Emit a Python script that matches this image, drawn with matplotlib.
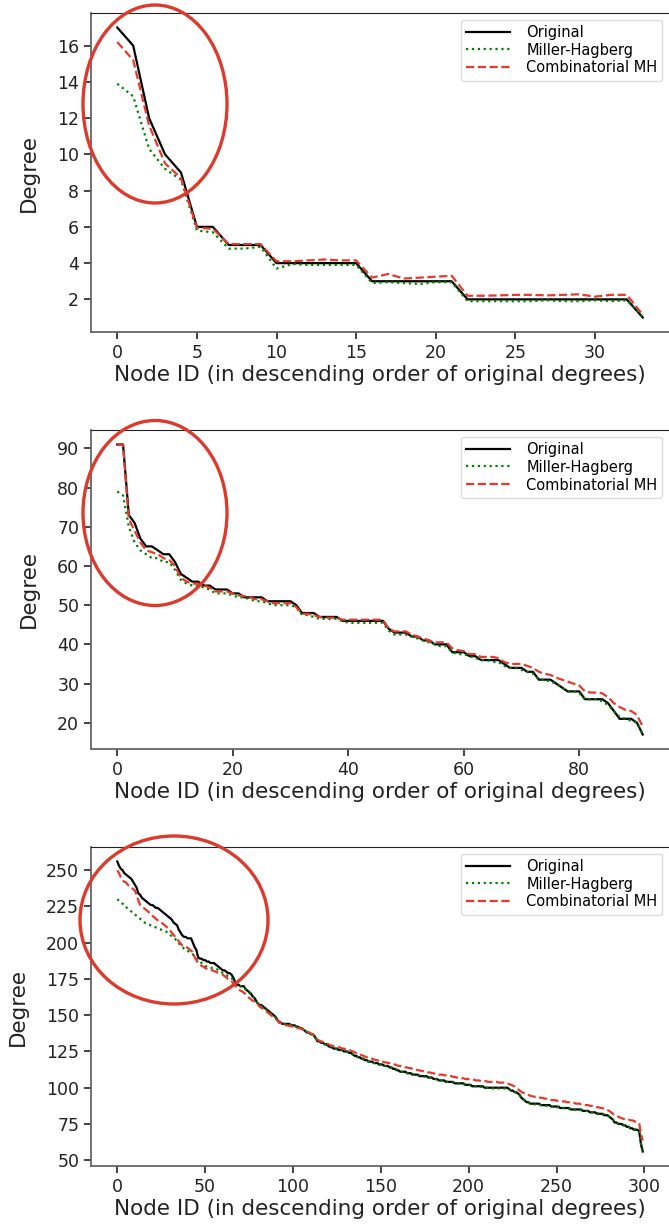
import matplotlib
matplotlib.use("Agg")
import matplotlib.pyplot as plt
from matplotlib.patches import Ellipse

# Panel 1 (34 nodes)
orig1 = [17, 16, 12, 10, 9, 6, 6, 5, 5, 5, 4, 4, 4, 4, 4, 4, 3, 3, 3, 3, 3, 3,
         2, 2, 2, 2, 2, 2, 2, 2, 2, 2, 2, 1]
mh1 = [13.9, 13.2, 10.3, 9.2, 8.6, 5.8, 5.7, 4.8, 4.8, 4.9, 3.7, 3.95, 3.9, 3.9,
       3.9, 3.9, 2.9, 2.95, 2.9, 2.85, 2.95, 2.95, 1.9, 1.9, 1.9, 1.9, 1.9, 1.95,
       1.9, 1.9, 1.95, 1.9, 1.95, 1.05]
cmh1 = [16.2, 15.2, 11.6, 9.5, 8.7, 5.95, 5.9, 5.05, 5.05, 5.05, 4.1, 4.1, 4.15,
        4.2, 4.15, 4.15, 3.2, 3.4, 3.15, 3.2, 3.25, 3.3, 2.2, 2.2, 2.22, 2.25,
        2.25, 2.22, 2.25, 2.28, 2.15, 2.25, 2.25, 1.15]

# Panel 2 (92 nodes)
orig2 = [91, 91, 73, 71, 67, 65, 65, 64, 63, 63,
         61, 58, 57, 56, 56, 55, 55, 54, 54, 54,
         53, 53, 52, 52, 52, 52, 51, 51, 51, 51,
         51, 50, 48, 48, 48, 47, 47, 47, 47, 46,
         46, 46, 46, 46, 46, 46, 46, 44, 43, 43,
         43, 42, 42, 41, 41, 40, 40, 40, 38, 38,
         38, 37, 37, 36, 36, 36, 36, 35, 34, 34,
         34, 33, 33, 31, 31, 31, 30, 29, 28, 28,
         28, 26, 26, 26, 26, 25, 23, 21, 21, 21,
         20, 17]
mh2 = [79, 78, 70, 66, 64, 63, 62, 62, 61, 61,
       59, 56.5, 55.5, 55, 55, 54.5, 54, 53, 53, 53,
       52.5, 52, 52, 51.5, 51, 51, 50.5, 50, 50, 50,
       50, 49.5, 47.5, 47.5, 47, 46.5, 46.5, 46.5, 46.5, 46,
       45.5, 45.5, 45.5, 45.5, 45.5, 45.5, 45.5, 43.5, 42.5, 42.5,
       42.5, 42, 41.5, 41, 40.5, 40, 39.5, 39.5, 38, 37.5,
       37.5, 37, 36.5, 36, 36, 35.5, 35.5, 34.5, 34, 34,
       33.5, 33, 32.5, 31, 31, 30.5, 30, 29, 28, 28,
       27.5, 26, 26, 26, 25.5, 24.5, 23, 21.5, 21, 20.5,
       20, 17]
cmh2 = [91, 91, 72, 69, 66, 64, 63.5, 63, 62, 61.5,
        60, 57, 56, 55.5, 55.5, 55, 54.5, 53.5, 53.5, 53.5,
        53, 52.5, 52.3, 52, 51.5, 51.5, 51, 50.5, 50.5, 50.5,
        50.5, 49.5, 47.8, 47.8, 47.5, 47, 46.8, 46.8, 46.8, 46.3,
        46.3, 46.3, 46.3, 46.3, 46.3, 46.3, 46.3, 44, 43.3, 43.3,
        43.3, 42.5, 42, 41.5, 41, 40.5, 40.5, 40.5, 39, 38.5,
        38.3, 37.5, 37.5, 36.8, 36.8, 36.8, 36.5, 35.5, 35, 35,
        35, 34.5, 34, 33, 32.5, 32.2, 31.5, 31, 30.5, 30,
        29.5, 28, 27.7, 27.7, 27.5, 26.5, 25, 24, 23.3, 23,
        22, 19]

# Panel 3 (300 nodes)
orig3 = [256, 253, 251, 250, 248, 247, 246, 245, 244, 242,
         240, 238, 234, 233, 231, 230, 229, 228, 227, 226,
         226, 225, 224, 224, 223, 222, 221, 220, 219, 218,
         217, 216, 214, 213, 212, 209, 207, 205, 204, 204,
         203, 203, 203, 200, 197, 195, 190, 189, 189, 188,
         188, 187, 187, 186, 186, 186, 185, 184, 183, 182,
         181, 181, 180, 179, 179, 178, 176, 173, 171, 171,
         170, 170, 170, 168, 167, 166, 165, 163, 162, 160,
         158, 157, 157, 156, 155, 154, 153, 152, 151, 150,
         149, 147, 145, 145, 144, 144, 144, 144, 144, 143,
         143, 143, 142, 142, 141, 141, 140, 139, 138, 138,
         137, 137, 136, 134, 132, 132, 131, 131, 130, 130,
         129, 128, 128, 127, 127, 127, 126, 126, 126, 125,
         125, 125, 124, 124, 123, 122, 122, 121, 121, 120,
         120, 119, 119, 118, 118, 118, 117, 117, 117, 116,
         116, 116, 115, 115, 115, 114, 114, 113, 113, 112,
         112, 111, 111, 111, 111, 110, 110, 110, 109, 109,
         109, 109, 108, 108, 108, 108, 108, 107, 107, 107,
         106, 106, 106, 105, 105, 105, 105, 104, 104, 104,
         104, 104, 103, 103, 103, 103, 103, 103, 102, 102,
         102, 102, 101, 101, 101, 101, 101, 101, 101, 100,
         100, 100, 100, 100, 100, 100, 100, 100, 100, 100,
         100, 100, 100, 99, 98, 98, 97, 97, 96, 95,
         93, 92, 91, 90, 90, 89, 89, 89, 89, 89,
         89, 88, 88, 88, 88, 88, 88, 87, 87, 87,
         87, 87, 86, 86, 86, 86, 86, 86, 85, 85,
         85, 85, 85, 85, 85, 84, 84, 84, 84, 83,
         83, 83, 83, 82, 82, 82, 82, 81, 81, 81,
         80, 79, 78, 76, 76, 75, 75, 75, 74, 74,
         73, 73, 72, 72, 71, 71, 71, 70, 61, 56]
mh3 = [230, 229, 228, 227, 225, 224.5, 223.5, 222.5, 221.5, 220.5,
       219.5, 218.5, 217.5, 216.5, 215.5, 214.5, 213.5, 213, 212.5, 212,
       211.5, 211, 210.5, 210, 209.5, 209, 208.5, 208, 207.5, 206.5,
       205.5, 204.5, 203.5, 202.5, 201, 199.5, 198.5, 197, 196, 195.5,
       194.5, 193.5, 193, 192, 190.5, 189, 188, 187, 186, 185,
       184, 183.5, 183, 183, 182.5, 182.5, 182, 181.5, 181, 180,
       179, 178, 177.5, 177, 176.5, 175.5, 174.5, 172.5, 171, 170.5,
       170, 169.5, 169, 168, 166.5, 165.5, 164.5, 163, 161.5, 160,
       158, 157, 156.5, 155.5, 154.5, 153.5, 152.5, 151.5, 150.5, 149.5,
       148.5, 147, 145.5, 145, 144.5, 144, 143.5, 143.5, 143.5, 143,
       143, 142.5, 142, 142, 141.5, 141, 140, 139, 138.5, 138,
       137, 136.5, 135.5, 134, 132.5, 132, 131, 130.5, 130, 129.5,
       129, 128.5, 128, 127.5, 127, 126.5, 126.5, 126, 126, 125.5,
       125, 124.5, 124, 123.5, 123, 122, 121.5, 121, 120.5, 120,
       119.5, 119, 118.5, 118, 118, 117.5, 117, 117, 116.5, 116,
       116, 115.5, 115, 115, 114.5, 114, 113.5, 113, 113, 112.5,
       112, 111.5, 111, 111, 110.5, 110, 110, 109.5, 109.5, 109,
       109, 108.5, 108.5, 108, 108, 107.5, 107.5, 107, 107, 106.5,
       106, 106, 105.5, 105.5, 105, 105, 104.5, 104.5, 104, 104,
       104, 103.5, 103.5, 103, 103, 103, 102.5, 102.5, 102, 102,
       102, 101.5, 101.5, 101, 101, 101, 100.5, 100.5, 100.5, 100,
       100, 100, 99.5, 99.5, 99.5, 99.5, 99.5, 99.5, 99.5, 99.5,
       99.5, 99.5, 99.5, 99, 98, 97.5, 97, 96.5, 95.5, 94.5,
       93, 92, 91, 90, 89.5, 89, 89, 88.5, 88.5, 88.5,
       88.5, 88, 88, 88, 87.5, 87.5, 87.5, 87, 87, 87,
       86.5, 86.5, 86, 86, 86, 85.5, 85.5, 85.5, 85, 85,
       85, 84.5, 84.5, 84.5, 84.5, 84, 84, 84, 83.5, 83.5,
       83, 83, 82.5, 82.5, 82, 82, 81.5, 81.5, 81, 80.5,
       80, 79, 78, 76.5, 76, 75.5, 75, 74.5, 74.5, 74,
       73.5, 73, 72.5, 72, 71.5, 71, 70.5, 70, 62, 56.5]
cmh3 = [250, 248, 245, 243, 242, 241.5, 240, 239, 238, 237,
        236, 233, 229, 226, 225, 224, 223, 222, 221, 219.5,
        218.5, 217.5, 216.5, 215.5, 214.5, 214, 213, 212, 211, 210,
        208.5, 207, 205.5, 204, 202.5, 201, 199.5, 198, 197.5, 197,
        196.5, 195.5, 194.5, 193.5, 190, 188, 186, 185, 184, 183.5,
        182.5, 182, 181.5, 181, 181, 180.5, 180, 179.5, 179, 178.5,
        178, 177, 176, 175, 174.5, 173.5, 172, 170.5, 169, 168,
        167, 166.5, 165.5, 164.5, 163, 162, 161, 160, 159.5, 159,
        157.5, 156, 155, 154.5, 153.5, 152.5, 151.5, 150.5, 149.5, 148.5,
        147.5, 146.5, 145.5, 144.5, 144, 143.5, 143, 143, 142.5, 142.5,
        142, 142, 141.5, 141, 141, 140.5, 140, 139, 138.5, 138,
        137.5, 137, 136, 134.5, 133, 132.5, 132, 131.5, 131, 130.5,
        130, 129.5, 129, 128.5, 128.5, 128, 128, 127.5, 127, 127,
        126.5, 126.5, 126, 125.5, 125, 124.5, 124, 123.5, 123, 122.5,
        122, 121.5, 121, 120.5, 120.5, 120, 119.5, 119, 119, 118.5,
        118, 118, 117.5, 117.5, 117, 117, 116.5, 116, 116, 115.5,
        115, 115, 114.5, 114.5, 114, 114, 113.5, 113.5, 113, 113,
        112.5, 112, 112, 111.5, 111.5, 111, 111, 110.5, 110.5, 110,
        110, 109.5, 109.5, 109, 109, 109, 108.5, 108.5, 108, 108,
        108, 107.5, 107.5, 107, 107, 107, 106.5, 106.5, 106, 106,
        106, 105.5, 105.5, 105.5, 105, 105, 105, 104.5, 104.5, 104.5,
        104.5, 104, 104, 104, 104, 104, 104, 103.5, 103.5, 103.5,
        103.5, 103, 103, 102.5, 102, 101.5, 101, 100, 99, 98,
        97, 96.5, 96, 95.5, 95, 94.5, 94, 94, 93.5, 93.5,
        93.5, 93, 93, 92.5, 92.5, 92, 92, 91.5, 91.5, 91.5,
        91, 91, 91, 90.5, 90.5, 90.5, 90, 90, 89.5, 89.5,
        89.5, 89, 89, 89, 88.5, 88.5, 88, 88, 88, 87.5,
        87.5, 87, 87, 86.5, 86.5, 86, 86, 85.5, 85, 84.5,
        84, 83, 82, 81, 80.5, 80, 79.5, 79, 78.5, 78.5,
        78, 78, 77.5, 77.5, 77, 76.5, 76, 75.5, 68, 63.5]

panels = [(orig1, mh1, cmh1), (orig2, mh2, cmh2), (orig3, mh3, cmh3)]
yticks = [[2, 4, 6, 8, 10, 12, 14, 16],
          [20, 30, 40, 50, 60, 70, 80, 90],
          [50, 75, 100, 125, 150, 175, 200, 225, 250]]
xticks = [[0, 5, 10, 15, 20, 25, 30],
          [0, 20, 40, 60, 80],
          [0, 50, 100, 150, 200, 250, 300]]

# ellipse annotations (figure pixel centre, width, height)
ellipses = [(155, 104, 144, 198), (155, 513, 144, 185), (174, 920, 188, 168)]

W, H = 669, 1228
fig = plt.figure(figsize=(W / 100, H / 100), dpi=100)

ax_tops = [13, 430, 847]
ax_h = 319
red = '#e5392b'

for i, (o, m, c) in enumerate(panels):
    top = ax_tops[i]
    ax = fig.add_axes([91 / W, 1 - (top + ax_h) / H, 1 - 91 / W, ax_h / H])
    x = list(range(len(o)))
    ax.plot(x, o, color='black', lw=1.6, label='Original')
    ax.plot(x, m, color='green', lw=1.6, ls=':', label='Miller-Hagberg')
    ax.plot(x, c, color=red, lw=1.6, ls='--', label='Combinatorial MH')
    ax.set_yticks(yticks[i])
    ax.set_xticks(xticks[i])
    ax.set_ylabel("Degree", fontsize=15.5, color='#222222', labelpad=13)
    ax.set_xlabel("Node ID (in descending order of original degrees)", fontsize=15.5,
                  color='#222222', labelpad=2)
    ax.tick_params(labelsize=12.5, colors='#222222', length=5, width=1.2)
    for s in ['left', 'bottom']:
        ax.spines[s].set_color('#666666')
        ax.spines[s].set_linewidth(1.3)
    ax.spines['top'].set_color('#222222')
    ax.spines['right'].set_visible(False)
    ax.legend(loc='upper right', fontsize=10.5, framealpha=1, edgecolor='#dddddd',
              borderaxespad=0.45, handlelength=3.0, labelspacing=0.2,
              borderpad=0.35, handletextpad=1.1)

for (cx, cy, w, h) in ellipses:
    e = Ellipse((cx / W, 1 - cy / H), w / W, h / H, transform=fig.transFigure,
                fill=False, edgecolor='#dc3a2c', lw=2.4, zorder=10)
    fig.patches.append(e)

fig.savefig("out.png", dpi=100)
